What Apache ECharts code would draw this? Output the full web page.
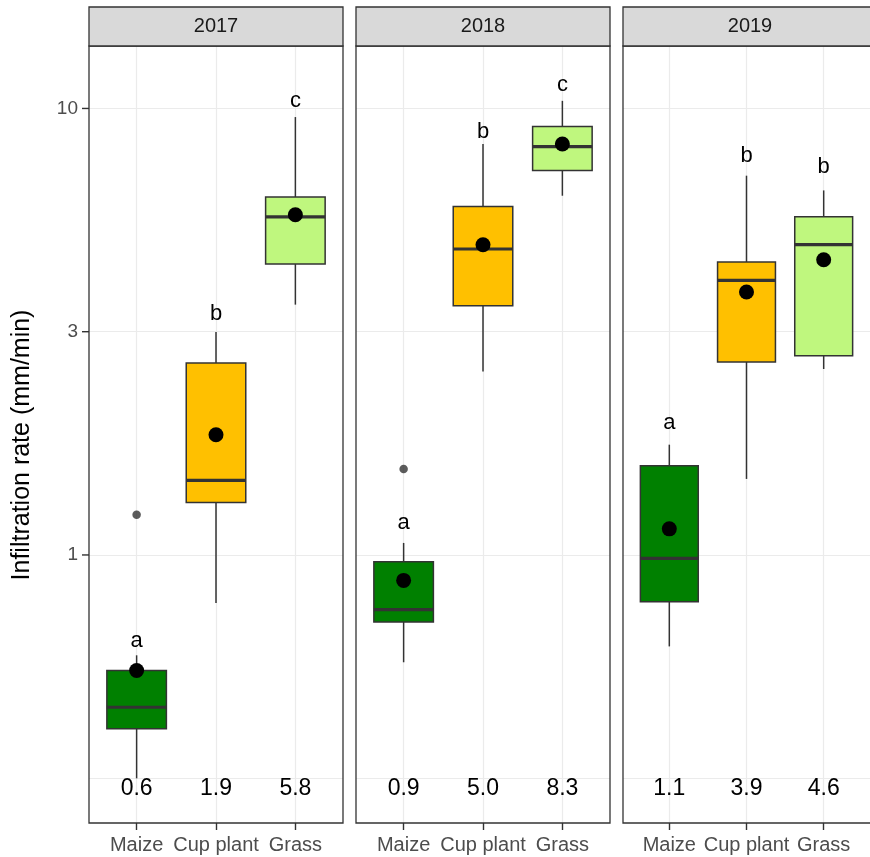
<!DOCTYPE html>
<html>
<head>
<meta charset="utf-8">
<script src="https://cdn.jsdelivr.net/npm/echarts@6/dist/echarts.min.js"></script>
<style>
  html, body { margin: 0; padding: 0; background: #ffffff; }
  #chart { width: 870px; height: 857px; }
</style>
</head>
<body>
<div id="chart"></div>
<script>
// ---- data -------------------------------------------------------------
const years = ['2017', '2018', '2019'];
const crops = ['Maize', 'Cup plant', 'Grass'];
const cropColors = ['#008000', '#FFC000', '#BFF77E'];

// [lower whisker, Q1, median, Q3, upper whisker] per crop (Maize, Cup plant, Grass)
const box2017 = [[0.316, 0.408, 0.456, 0.551, 0.596], [0.781, 1.311, 1.469, 2.692, 3.158], [3.636, 4.483, 5.72, 6.333, 9.566]];
const box2018 = [[0.575, 0.708, 0.754, 0.966, 1.064], [2.577, 3.616, 4.844, 6.034, 8.325], [6.376, 7.263, 8.21, 9.116, 10.40]];
const box2019 = [[0.624, 0.786, 0.983, 1.585, 1.766], [1.48, 2.705, 4.12, 4.529, 7.07], [2.609, 2.795, 4.953, 5.72, 6.553]];

// mean infiltration rate per crop
const means2017 = [0.551, 1.859, 5.78];
const means2018 = [0.877, 4.953, 8.325];
const means2019 = [1.144, 3.881, 4.584];

// outliers: [crop position, value]
const outliers2017 = [[1, 1.231]];
const outliers2018 = [[1, 1.558]];
const outliers2019 = [];

// significance letters and the height at which each is printed
const letters2017 = ['a', 'b', 'c'];
const letters2018 = ['a', 'b', 'c'];
const letters2019 = ['a', 'b', 'b'];
const letterY2017 = [0.641, 3.47, 10.37];
const letterY2018 = [1.18, 8.88, 11.3];
const letterY2019 = [1.978, 7.84, 7.38];

// y axis breaks (half decades on a log10 scale) and their labels
const yTickValues = [1, Math.sqrt(10), 10];
const yTickLabels = ['1', '3', '10'];

const boxes = [box2017, box2018, box2019];
const means = [means2017, means2018, means2019];
const outliers = [outliers2017, outliers2018, outliers2019];
const letters = [letters2017, letters2018, letters2019];
const letterYs = [letterY2017, letterY2018, letterY2019];

// ---- layout -------------------------------------------------------------
const FONT = '"Liberation Sans", Arial, sans-serif';
const panelLeft = [89, 356, 623];
const panelW = 254;
const panelTop = 46;
const panelH = 777;
const stripTop = 7;
const MEAN_LABEL_Y = 0.3;
const Y_MIN = 0.251, Y_MAX = 13.8;
const BOX_WIDTH = 0.75;
const X_MIN = 0.4, X_MAX = 3.6;
const TICK_LEN = 7;

const chart = echarts.init(document.getElementById('chart'), null, { renderer: 'canvas' });

const grids = [], xAxes = [], yAxes = [], series = [], graphics = [];

function yLabel(v) {
  for (let k = 0; k < yTickValues.length; k++) {
    if (Math.abs(v - yTickValues[k]) < 1e-6 * yTickValues[k]) return yTickLabels[k];
  }
  return '';
}

function boxRenderer(panel) {
  return function (params, api) {
    const j = params.dataIndex;
    const x = api.value(0);
    const lo = api.coord([x, api.value(1)]);
    const q1 = api.coord([x, api.value(2)]);
    const md = api.coord([x, api.value(3)]);
    const q3 = api.coord([x, api.value(4)]);
    const hi = api.coord([x, api.value(5)]);
    const mn = api.coord([x, api.value(6)]);
    const lt = api.coord([x, letterYs[panel][j]]);
    const ml = api.coord([x, MEAN_LABEL_Y]);
    const left = api.coord([x - BOX_WIDTH / 2, 1])[0];
    const right = api.coord([x + BOX_WIDTH / 2, 1])[0];
    const cx = lo[0];
    const stroke = { stroke: '#333333', lineWidth: 1.5, fill: null };
    const children = [
      { type: 'line', shape: { x1: cx, y1: hi[1], x2: cx, y2: q3[1] }, style: stroke },
      { type: 'line', shape: { x1: cx, y1: q1[1], x2: cx, y2: lo[1] }, style: stroke },
      { type: 'rect', shape: { x: left, y: q3[1], width: right - left, height: q1[1] - q3[1] },
        style: { fill: cropColors[x - 1], stroke: '#333333', lineWidth: 1.5 } },
      { type: 'line', shape: { x1: left, y1: md[1], x2: right, y2: md[1] },
        style: { stroke: '#333333', lineWidth: 3.2 } },
      { type: 'circle', shape: { cx: mn[0], cy: mn[1], r: 7.5 }, style: { fill: '#000000' } },
      { type: 'text', x: lt[0], y: lt[1],
        style: { text: letters[panel][j], align: 'center', verticalAlign: 'middle', fill: '#000000', font: '22px ' + FONT } },
      { type: 'text', x: ml[0], y: ml[1],
        style: { text: means[panel][j].toFixed(1), align: 'center', verticalAlign: 'middle', fill: '#000000', font: '23px ' + FONT } }
    ];
    // y axis tick marks, drawn once on the first panel
    if (panel === 0 && j === 0) {
      const x0 = api.coord([X_MIN, 1])[0];
      yTickValues.forEach(v => {
        const ty = api.coord([X_MIN, v])[1];
        children.push({ type: 'line', shape: { x1: x0 - TICK_LEN, y1: ty, x2: x0, y2: ty },
          style: { stroke: '#333333', lineWidth: 1.4 } });
      });
    }
    return { type: 'group', children: children };
  };
}

years.forEach((yr, i) => {
  grids.push({
    left: panelLeft[i], top: panelTop, width: panelW, height: panelH,
    show: true, backgroundColor: '#ffffff', borderWidth: 0
  });
  xAxes.push({
    type: 'value', gridIndex: i, min: X_MIN, max: X_MAX,
    axisLine: { show: false },
    splitLine: { show: false },
    axisTick: { show: true, customValues: [1, 2, 3], length: TICK_LEN, lineStyle: { color: '#333333', width: 1.4 } },
    axisLabel: {
      show: true, customValues: [1, 2, 3], margin: 12,
      formatter: v => crops[Math.round(v) - 1] || '',
      color: '#4D4D4D', fontSize: 20, fontFamily: FONT
    }
  });
  yAxes.push({
    type: 'log', logBase: Math.sqrt(10), gridIndex: i, min: Y_MIN, max: Y_MAX,
    axisLine: { show: false },
    splitLine: { show: true, showMinLine: false, showMaxLine: false, lineStyle: { color: '#EBEBEB', width: 1.2 } },
    axisTick: { show: false },
    axisLabel: {
      show: i === 0, margin: 11, formatter: yLabel, showMinLabel: false, showMaxLabel: false,
      color: '#4D4D4D', fontSize: 19, fontFamily: FONT
    }
  });

  series.push({
    type: 'custom', xAxisIndex: i, yAxisIndex: i, z: 3, clip: false,
    renderItem: boxRenderer(i),
    data: boxes[i].map((b, j) => [j + 1, b[0], b[1], b[2], b[3], b[4], means[i][j]]),
    // vertical grid lines at the crop positions, kept beneath the boxes
    markLine: {
      z: 1, silent: true, symbol: 'none', label: { show: false },
      lineStyle: { color: '#EBEBEB', width: 1.2, type: 'solid' },
      emphasis: { disabled: true },
      data: crops.map((c, j) => ({ xAxis: j + 1 }))
    }
  });

  series.push({
    type: 'scatter', xAxisIndex: i, yAxisIndex: i, z: 4, symbolSize: 8.5,
    itemStyle: { color: '#333333' },
    data: outliers[i]
  });

  // panel border
  graphics.push({
    type: 'rect', z: 100, silent: true,
    shape: { x: panelLeft[i], y: panelTop, width: panelW, height: panelH },
    style: { fill: null, stroke: '#333333', lineWidth: 1.3 }
  });
  // facet strip
  graphics.push({
    type: 'rect', z: 100, silent: true,
    shape: { x: panelLeft[i], y: stripTop, width: panelW, height: panelTop - stripTop },
    style: { fill: '#D9D9D9', stroke: '#333333', lineWidth: 1.3 }
  });
  graphics.push({
    type: 'text', z: 101, silent: true,
    x: panelLeft[i] + panelW / 2, y: (stripTop + panelTop) / 2,
    style: { text: yr, align: 'center', verticalAlign: 'middle', fill: '#1A1A1A', font: '20px ' + FONT }
  });
});

graphics.push({
  type: 'text', z: 101, silent: true, x: 22, y: 445, rotation: Math.PI / 2,
  style: { text: 'Infiltration rate (mm/min)', align: 'center', verticalAlign: 'middle', fill: '#000000', font: '25px ' + FONT }
});

chart.setOption({
  animation: false,
  backgroundColor: '#ffffff',
  grid: grids,
  xAxis: xAxes,
  yAxis: yAxes,
  series: series,
  graphic: graphics
});
</script>
</body>
</html>
